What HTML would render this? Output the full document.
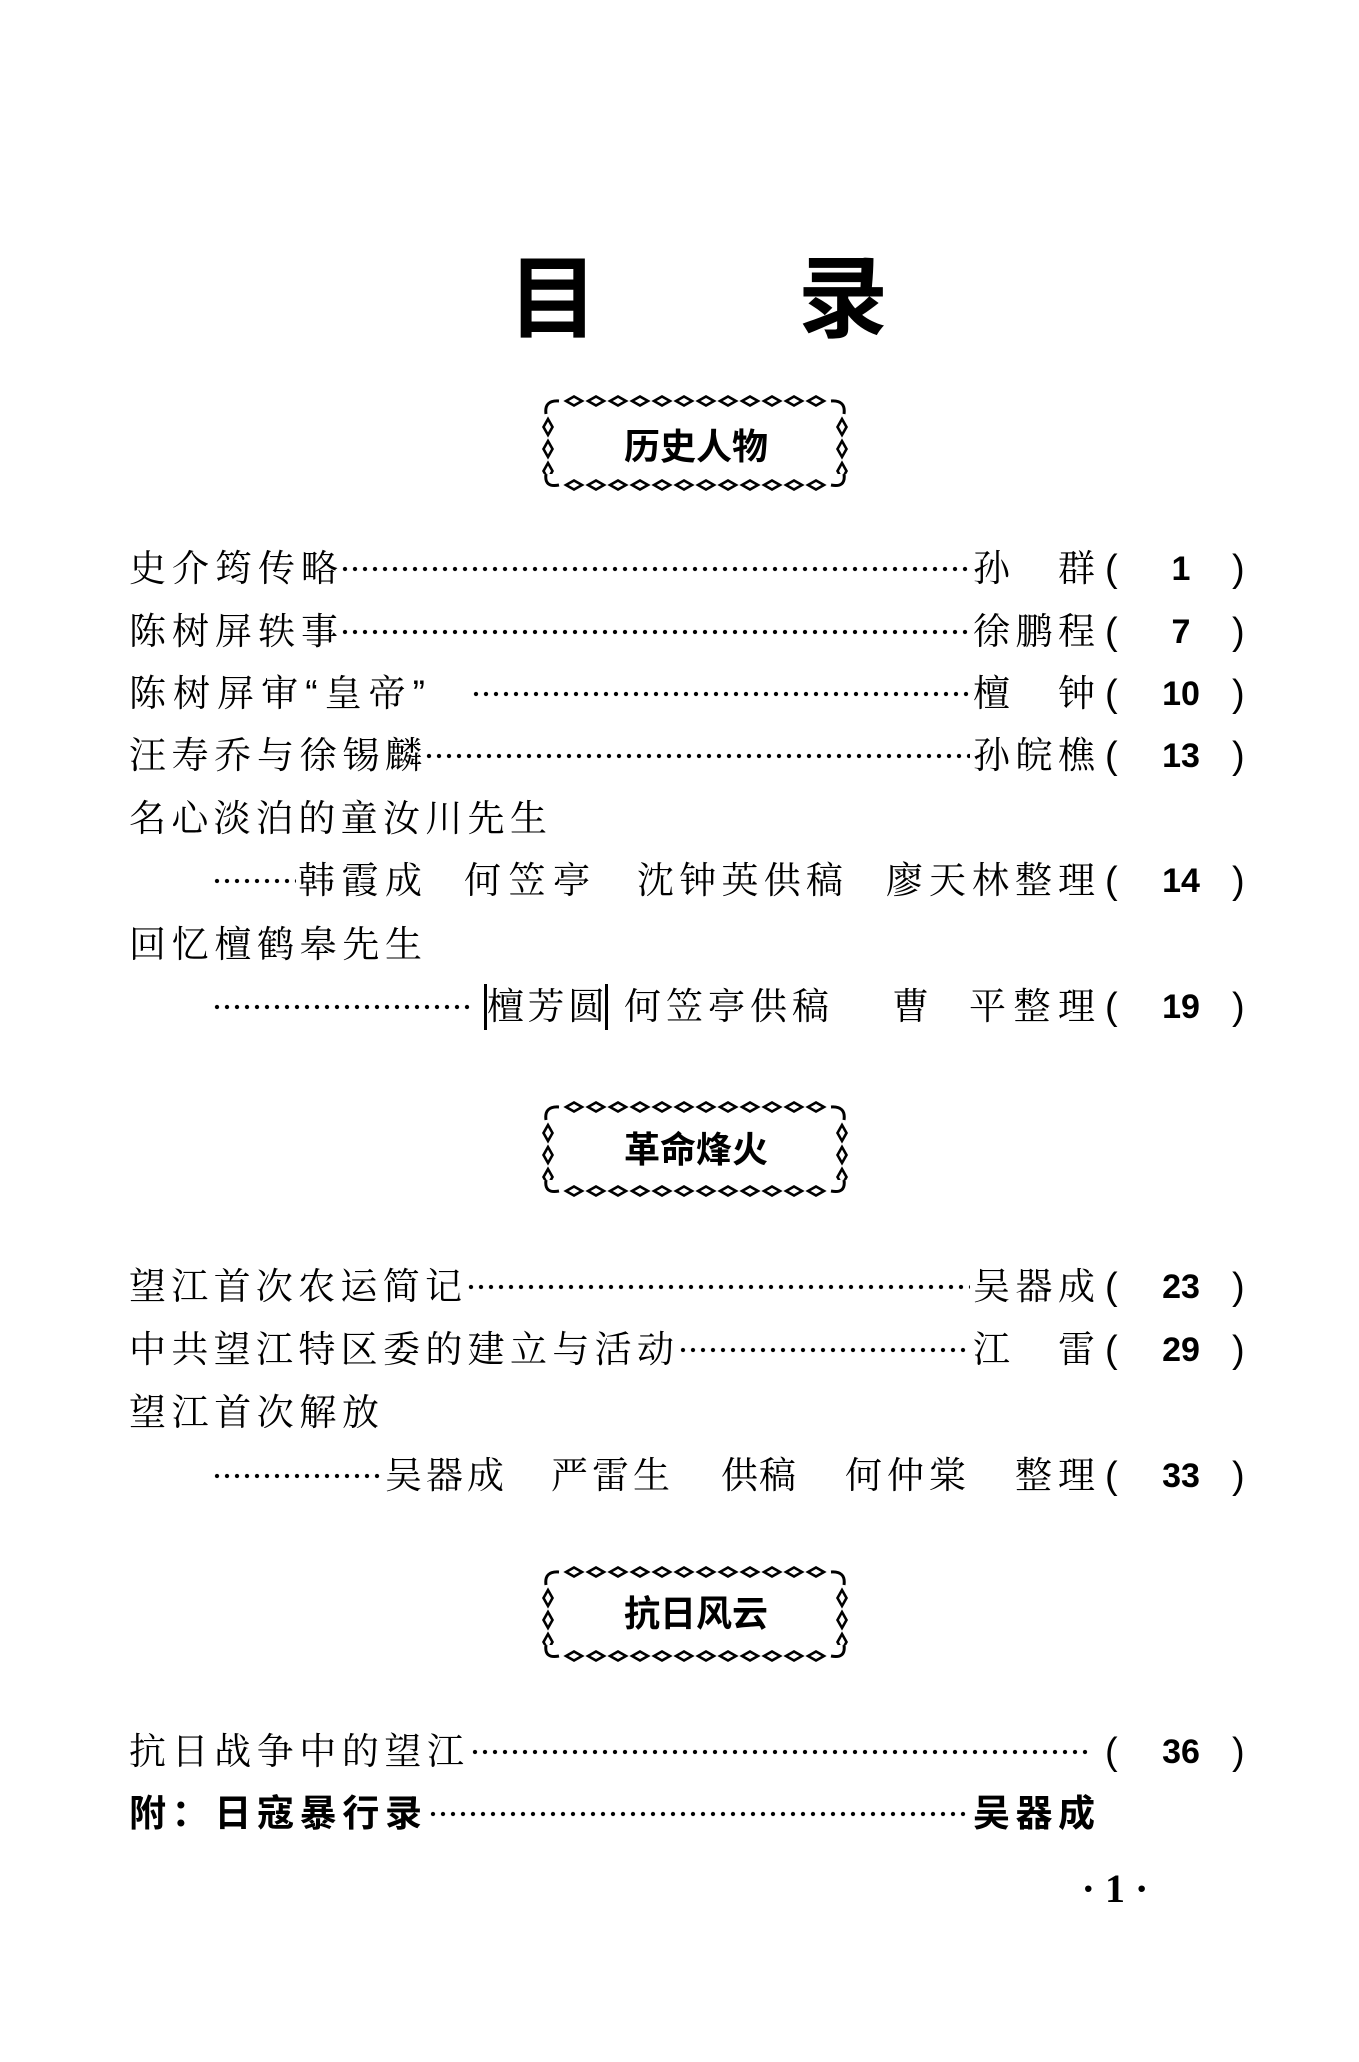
<!DOCTYPE html>
<html><head><meta charset="utf-8"><style>
html,body{margin:0;padding:0;background:#fff;}
body{width:1359px;height:2062px;position:relative;overflow:hidden;font-family:"Liberation Sans","Noto Serif CJK SC","Noto Sans CJK SC",serif;color:#000;}
.t{position:absolute;height:46px;line-height:46px;font-size:37px;white-space:nowrap;text-align:justify;text-align-last:justify;}
.d{position:absolute;height:46px;background-image:radial-gradient(circle,#000 1.8px,transparent 2.4px);background-size:10px 46px;background-repeat:repeat-x;background-position:0 60%;}
.n{position:absolute;height:46px;line-height:46px;font-size:34px;font-family:"Liberation Sans",sans-serif;font-weight:bold;text-align:center;}
.pp{position:absolute;height:46px;line-height:46px;font-size:38px;font-family:"Liberation Sans",sans-serif;}
.h{position:absolute;font-family:"Liberation Sans","Noto Sans CJK SC",sans-serif;font-weight:bold;font-size:36px;text-align:center;}
.b{font-family:"Liberation Sans","Noto Sans CJK SC",sans-serif;font-weight:bold;}
.r{position:absolute;left:0;top:-4px;width:1359px;height:2062px;}
</style></head><body>

<div style="position:absolute;left:508px;top:245px;font-size:90px;font-weight:bold;font-family:'Liberation Sans','Noto Sans CJK SC',sans-serif;line-height:110px;">目</div>
<div style="position:absolute;left:798px;top:245px;font-size:90px;font-weight:bold;font-family:'Liberation Sans','Noto Sans CJK SC',sans-serif;line-height:110px;">录</div>

<svg width="0" height="0" style="position:absolute">
<defs>
<pattern id="ph" width="22" height="14" patternUnits="userSpaceOnUse"><path d="M3 7 L11 2.5 L19 7 L11 11.5 Z" fill="none" stroke="#000" stroke-width="2.6"/></pattern>
<pattern id="pv" width="14" height="22" patternUnits="userSpaceOnUse"><path d="M7 3 L2.5 11 L7 19 L11.5 11 Z" fill="none" stroke="#000" stroke-width="2.6"/></pattern>
</defs></svg>

<svg style="position:absolute;left:541px;top:394px" width="310" height="102">
<rect x="22" y="0" width="264" height="14" fill="url(#ph)"/>
<rect x="22" y="84" width="264" height="14" fill="url(#ph)"/>
<rect x="0" y="22" width="14" height="58" fill="url(#pv)"/>
<rect x="294" y="22" width="14" height="58" fill="url(#pv)"/>
<path d="M5 20 Q3 6 18 7 M303 20 Q305 6 290 7 M5 80 Q3 94 18 91 M303 80 Q305 94 290 91" fill="none" stroke="#000" stroke-width="3"/>
</svg>
<div class="h" style="left:541px;width:310px;top:422px;line-height:50px;">历史人物</div>

<svg style="position:absolute;left:541px;top:1100px" width="310" height="102">
<rect x="22" y="0" width="264" height="14" fill="url(#ph)"/>
<rect x="22" y="84" width="264" height="14" fill="url(#ph)"/>
<rect x="0" y="22" width="14" height="58" fill="url(#pv)"/>
<rect x="294" y="22" width="14" height="58" fill="url(#pv)"/>
<path d="M5 20 Q3 6 18 7 M303 20 Q305 6 290 7 M5 80 Q3 94 18 91 M303 80 Q305 94 290 91" fill="none" stroke="#000" stroke-width="3"/>
</svg>
<div class="h" style="left:541px;width:310px;top:1125px;line-height:50px;">革命烽火</div>

<svg style="position:absolute;left:541px;top:1565px" width="310" height="102">
<rect x="22" y="0" width="264" height="14" fill="url(#ph)"/>
<rect x="22" y="84" width="264" height="14" fill="url(#ph)"/>
<rect x="0" y="22" width="14" height="58" fill="url(#pv)"/>
<rect x="294" y="22" width="14" height="58" fill="url(#pv)"/>
<path d="M5 20 Q3 6 18 7 M303 20 Q305 6 290 7 M5 80 Q3 94 18 91 M303 80 Q305 94 290 91" fill="none" stroke="#000" stroke-width="3"/>
</svg>
<div class="h" style="left:541px;width:310px;top:1589px;line-height:50px;">抗日风云</div>

<div class="r">
<div class="t" style="left:129px;top:550px;width:209px">史介筠传略</div>
<div class="d" style="left:340px;top:550px;width:630px"></div>
<div class="t" style="left:973px;top:550px;width:122px">孙 群</div>
<div class="pp" style="left:1105px;top:550px">(</div><div class="n" style="left:1151px;top:550px;width:60px">1</div><div class="pp" style="left:1232px;top:550px">)</div>

<div class="t" style="left:129px;top:613px;width:209px">陈树屏轶事</div>
<div class="d" style="left:340px;top:613px;width:630px"></div>
<div class="t" style="left:973px;top:613px;width:122px">徐鹏程</div>
<div class="pp" style="left:1105px;top:613px">(</div><div class="n" style="left:1151px;top:613px;width:60px">7</div><div class="pp" style="left:1232px;top:613px">)</div>

<div class="t" style="left:129px;top:675px;width:296px">陈树屏审“皇帝”</div>
<div class="d" style="left:471px;top:675px;width:499px"></div>
<div class="t" style="left:973px;top:675px;width:122px">檀 钟</div>
<div class="pp" style="left:1105px;top:675px">(</div><div class="n" style="left:1151px;top:675px;width:60px">10</div><div class="pp" style="left:1232px;top:675px">)</div>

<div class="t" style="left:129px;top:737px;width:293px">汪寿乔与徐锡麟</div>
<div class="d" style="left:424px;top:737px;width:546px"></div>
<div class="t" style="left:973px;top:737px;width:122px">孙皖樵</div>
<div class="pp" style="left:1105px;top:737px">(</div><div class="n" style="left:1151px;top:737px;width:60px">13</div><div class="pp" style="left:1232px;top:737px">)</div>

<div class="t" style="left:129px;top:800px;width:418px">名心淡泊的童汝川先生</div>

<div class="d" style="left:212px;top:862px;width:84px"></div>
<div class="t" style="left:298px;top:862px;width:124px">韩霞成</div>
<div class="t" style="left:464px;top:862px;width:126px">何笠亭</div>
<div class="t" style="left:637px;top:862px;width:206px">沈钟英供稿</div>
<div class="t" style="left:886px;top:862px;width:209px">廖天林整理</div>
<div class="pp" style="left:1105px;top:862px">(</div><div class="n" style="left:1151px;top:862px;width:60px">14</div><div class="pp" style="left:1232px;top:862px">)</div>

<div class="t" style="left:129px;top:926px;width:293px">回忆檀鹤皋先生</div>

<div class="d" style="left:212px;top:988px;width:258px"></div>
<div class="t" style="left:484px;top:988px;width:118px;border-left:3px solid #000;border-right:3px solid #000;">檀芳圆</div>
<div class="t" style="left:624px;top:988px;width:205px">何笠亭供稿</div>
<div class="t" style="left:892px;top:988px;width:37px">曹</div>
<div class="t" style="left:969px;top:988px;width:126px">平整理</div>
<div class="pp" style="left:1105px;top:988px">(</div><div class="n" style="left:1151px;top:988px;width:60px">19</div><div class="pp" style="left:1232px;top:988px">)</div>

<div class="t" style="left:129px;top:1268px;width:333px">望江首次农运简记</div>
<div class="d" style="left:466px;top:1268px;width:504px"></div>
<div class="t" style="left:973px;top:1268px;width:122px">吴器成</div>
<div class="pp" style="left:1105px;top:1268px">(</div><div class="n" style="left:1151px;top:1268px;width:60px">23</div><div class="pp" style="left:1232px;top:1268px">)</div>

<div class="t" style="left:129px;top:1331px;width:545px">中共望江特区委的建立与活动</div>
<div class="d" style="left:678px;top:1331px;width:292px"></div>
<div class="t" style="left:973px;top:1331px;width:122px">江 雷</div>
<div class="pp" style="left:1105px;top:1331px">(</div><div class="n" style="left:1151px;top:1331px;width:60px">29</div><div class="pp" style="left:1232px;top:1331px">)</div>

<div class="t" style="left:129px;top:1394px;width:250px">望江首次解放</div>

<div class="d" style="left:212px;top:1457px;width:168px"></div>
<div class="t" style="left:385px;top:1457px;width:119px">吴器成</div>
<div class="t" style="left:551px;top:1457px;width:119px">严雷生</div>
<div class="t" style="left:721px;top:1457px;width:75px">供稿</div>
<div class="t" style="left:845px;top:1457px;width:121px">何仲棠</div>
<div class="t" style="left:1015px;top:1457px;width:80px">整理</div>
<div class="pp" style="left:1105px;top:1457px">(</div><div class="n" style="left:1151px;top:1457px;width:60px">33</div><div class="pp" style="left:1232px;top:1457px">)</div>

<div class="t" style="left:129px;top:1733px;width:335px">抗日战争中的望江</div>
<div class="d" style="left:470px;top:1733px;width:622px"></div>
<div class="pp" style="left:1105px;top:1733px">(</div><div class="n" style="left:1151px;top:1733px;width:60px">36</div><div class="pp" style="left:1232px;top:1733px">)</div>

<div class="t b" style="left:129px;top:1795px;width:293px">附：日寇暴行录</div>
<div class="d" style="left:428px;top:1795px;width:542px"></div>
<div class="t b" style="left:973px;top:1795px;width:122px">吴器成</div>
</div>

<div style="position:absolute;left:1060px;top:1869px;width:110px;text-align:center;font-size:40px;font-weight:bold;font-family:'Liberation Serif',serif;line-height:40px;">·&nbsp;1&nbsp;·</div>
</body></html>
